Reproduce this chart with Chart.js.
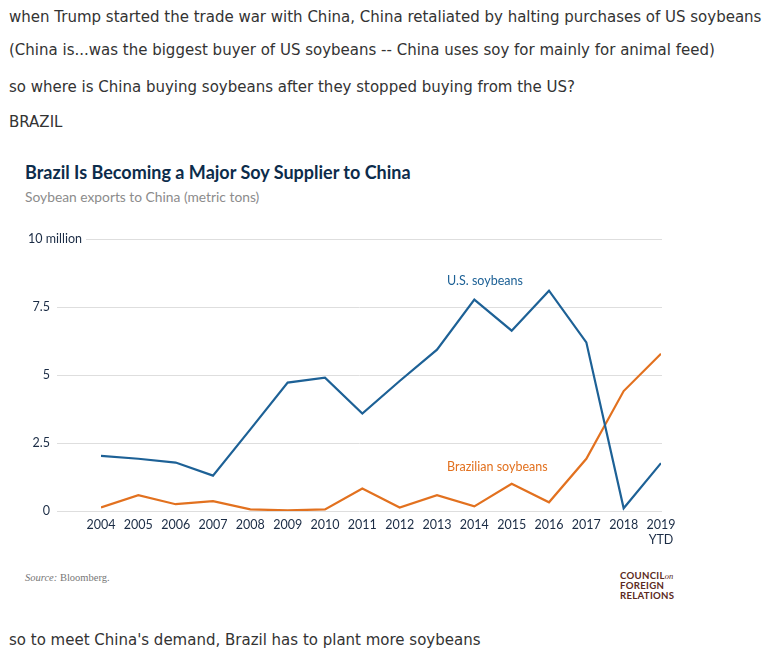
<!DOCTYPE html>
<html>
<head>
<meta charset="utf-8">
<script src="https://cdn.jsdelivr.net/npm/chart.js"></script>
<style>
  body { margin: 0; background: #fff; width: 779px; height: 652px; position: relative; overflow: hidden; }
  .txt { position: absolute; left: 9px; font-family: "DejaVu Sans", Verdana, sans-serif; font-size: 15px; color: #333; line-height: 20px; white-space: nowrap; }
  #title { position: absolute; left: 25px; top: 161px; font-family: Lato, sans-serif; font-weight: 700; font-size: 18px; color: #0c2c4b; white-space: nowrap; }
  #sub { position: absolute; left: 25px; top: 188px; font-family: Lato, sans-serif; font-size: 13.8px; color: #8c8c8c; white-space: nowrap; }
  #src { position: absolute; left: 25px; top: 572px; font-family: "Liberation Serif", serif; font-size: 10.5px; color: #777; }
  #cfr { position: absolute; left: 620px; top: 571px; font-family: Lato, sans-serif; font-weight: 700; font-size: 9.6px; line-height: 10px; color: #5b2a22; letter-spacing: 0.3px; }
  #cfr i { font-family: "Liberation Serif", serif; font-weight: 400; font-size: 8.5px; letter-spacing: 0; }
  #myChart { position: absolute; left: 0; top: 220px; }
</style>
</head>
<body>
<div class="txt" style="top:7px">when Trump started the trade war with China, China retaliated by halting purchases of US soybeans</div>
<div class="txt" style="top:40px">(China is...was the biggest buyer of US soybeans -- China uses soy for mainly for animal feed)</div>
<div class="txt" style="top:77px">so where is China buying soybeans after they stopped buying from the US?</div>
<div class="txt" style="top:112px">BRAZIL</div>

<div id="title">Brazil Is Becoming a Major Soy Supplier to China</div>
<div id="sub">Soybean exports to China (metric tons)</div>
<canvas id="myChart" width="700" height="340"></canvas>
<div id="src"><i>Source:</i> Bloomberg.</div>
<div id="cfr">COUNCIL<i>on</i><br>FOREIGN<br>RELATIONS</div>

<div class="txt" style="top:630px">so to meet China's demand, Brazil has to plant more soybeans</div>

<script>
// data (million metric tons)
const years = [2004, 2005, 2006, 2007, 2008, 2009, 2010, 2011, 2012, 2013, 2014, 2015, 2016, 2017, 2018, 2019];
const usSoy = [2.03, 1.92, 1.78, 1.30, 3.0, 4.72, 4.90, 3.58, 4.78, 5.93, 7.77, 6.63, 8.10, 6.20, 0.10, 1.76];
const brazilSoy = [0.13, 0.58, 0.25, 0.36, 0.06, 0.02, 0.06, 0.83, 0.13, 0.58, 0.17, 1.00, 0.32, 1.92, 4.41, 5.78];
const yTicks = [0, 2.5, 5, 7.5, 10];

const navy = '#1b2c45';
const blue = '#1d6196';
const orange = '#e2711f';

// grid lines + labels drawn with the chart's own scales
const extras = {
  id: 'extras',
  beforeDatasetsDraw(chart) {
    const c = chart.ctx, y = chart.scales.y, area = chart.chartArea;
    c.save();
    c.strokeStyle = '#dedede';
    c.lineWidth = 1;
    yTicks.forEach(v => {
      const py = Math.round(y.getPixelForValue(v)) + 0.5;
      c.beginPath();
      c.moveTo(v === 10 ? 86 : 57, py);
      c.lineTo(area.right + 1, py);
      c.stroke();
    });
    c.fillStyle = navy;
    c.font = '12.5px Lato, sans-serif';
    c.textBaseline = 'middle';
    c.textAlign = 'left';
    c.fillText('10 million', 28, y.getPixelForValue(10));
    c.restore();
  },
  afterDatasetsDraw(chart) {
    const c = chart.ctx, x = chart.scales.x, y = chart.scales.y;
    c.save();
    c.font = '12.5px Lato, sans-serif';
    c.textBaseline = 'middle';
    c.textAlign = 'left';
    c.fillStyle = blue;
    c.fillText('U.S. soybeans', x.getPixelForValue(2013.27), y.getPixelForValue(8.46));
    c.fillStyle = orange;
    c.fillText('Brazilian soybeans', x.getPixelForValue(2013.27), y.getPixelForValue(1.62));
    c.restore();
  }
};

new Chart(document.getElementById('myChart'), {
  type: 'line',
  data: {
    datasets: [
      { label: 'U.S. soybeans', data: years.map((yr, i) => ({ x: yr, y: usSoy[i] })), borderColor: blue, borderWidth: 2.2 },
      { label: 'Brazilian soybeans', data: years.map((yr, i) => ({ x: yr, y: brazilSoy[i] })), borderColor: orange, borderWidth: 2.2 }
    ]
  },
  options: {
    responsive: false,
    animation: false,
    events: [],
    layout: { padding: { left: 0, right: 39, top: 19, bottom: 0 } },
    elements: { point: { radius: 0 }, line: { tension: 0, borderJoinStyle: 'miter' } },
    plugins: { legend: { display: false }, tooltip: { enabled: false } },
    scales: {
      x: {
        type: 'linear',
        min: 2004,
        max: 2019,
        grid: { display: false, drawTicks: false },
        border: { display: false },
        afterFit(s) { s.height = 49; s.paddingLeft = 0; s.paddingRight = 0; },
        afterBuildTicks(s) { s.ticks = years.map(v => ({ value: v })); },
        ticks: {
          padding: 6,
          color: navy,
          font: { family: 'Lato, sans-serif', size: 12.5 },
          maxRotation: 0,
          autoSkip: false,
          callback: v => v === 2019 ? ['2019', 'YTD'] : String(v)
        }
      },
      y: {
        min: 0,
        max: 10,
        grid: { display: false, drawTicks: false },
        border: { display: false },
        // tick padding would otherwise push the plot area down
        afterFit(s) { s.width = 101; s.paddingTop = 0; s.paddingBottom = 0; },
        afterBuildTicks(s) { s.ticks = yTicks.map(v => ({ value: v })); },
        ticks: {
          padding: 51,
          color: navy,
          font: { family: 'Lato, sans-serif', size: 12.5 },
          callback: v => v === 10 ? '' : String(v)
        }
      }
    }
  },
  plugins: [extras]
});
</script>
</body>
</html>
